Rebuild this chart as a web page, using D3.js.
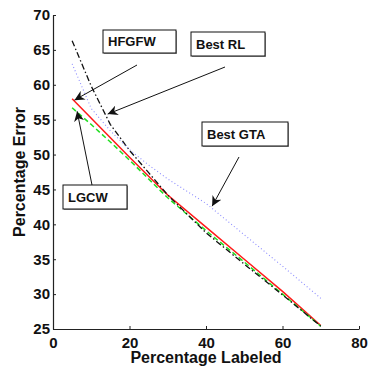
<!DOCTYPE html>
<html>
<head>
<meta charset="utf-8">
<script src="https://cdn.jsdelivr.net/npm/d3@7"></script>
<style>
  body { margin: 0; background: white; }
  text { font-family: "Liberation Sans", Arial, sans-serif; font-weight: bold; }
</style>
</head>
<body>
<script>
// percentage labeled (x) and percentage error for each method
var labeled = [5, 10, 15, 20, 25, 30, 40, 50, 60, 70];
var hfgfw   = [58.0, 55.2, 52.4, 49.6, 46.9, 44.2, 39.6, 35.0, 30.4, 25.5];
var lgcw    = [56.7, 54.3, 51.8, 49.2, 46.5, 43.8, 39.1, 34.6, 30.0, 25.4];
var bestRL  = [66.3, 59.8, 54.3, 50.6, 47.4, 44.2, 38.8, 34.3, 29.9, 25.4];
var bestGTA = [63.0, 56.6, 53.4, 50.7, 48.5, 46.5, 43.0, 38.5, 34.0, 29.4];

var xTicks = [0, 20, 40, 60, 80],
    yTicks = [25, 30, 35, 40, 45, 50, 55, 60, 65, 70];

// annotation boxes: label, box [x, y, w, h], arrow from (px) -> tip (data units)
var notes = [
    {label: "HFGFW",    box: [103, 30, 73, 23], from: [137, 65], to: [5.6, 57.8]},
    {label: "Best RL",  box: [191, 32, 74, 24], from: [225, 67], to: [14.3, 55.8]},
    {label: "Best GTA", box: [202, 122, 86, 24], from: [239, 157], to: [41.6, 42.6]},
    {label: "LGCW",     box: [63, 185, 64, 24], from: [92, 185], to: [6.3, 56.2]}
];

var W = 370, H = 366;
var margin = {top: 15, right: 11, bottom: 37, left: 53};

var svg = d3.select("body").append("svg")
    .attr("width", W)
    .attr("height", H);

var x = d3.scaleLinear().domain([0, 80]).range([margin.left, W - margin.right]);
var y = d3.scaleLinear().domain([25, 70]).range([H - margin.bottom, margin.top]);

// ==== axes ====
var xAxis = svg.append("g")
    .attr("transform", "translate(0," + y(25) + ")")
    .call(d3.axisBottom(x).tickValues(xTicks).tickSizeInner(-3).tickSizeOuter(0).tickPadding(8));
var yAxis = svg.append("g")
    .attr("transform", "translate(" + x(0) + ",0)")
    .call(d3.axisLeft(y).tickValues(yTicks).tickSizeInner(-3).tickSizeOuter(0).tickPadding(3));

[xAxis, yAxis].forEach(function(a) {
    a.select(".domain").attr("stroke", "#222").attr("stroke-width", 1.2);
    a.selectAll(".tick line").attr("stroke", "#222");
    a.selectAll("text")
        .attr("font-family", '"Liberation Sans", Arial, sans-serif')
        .attr("font-weight", "bold")
        .attr("font-size", "15px")
        .attr("fill", "#111");
});

svg.append("text")
    .text("Percentage Labeled")
    .attr("x", (x(0) + x(80)) / 2)
    .attr("y", 363)
    .attr("text-anchor", "middle")
    .attr("font-size", "16px")
    .attr("fill", "#111");

svg.append("text")
    .text("Percentage Error")
    .attr("transform", "translate(25," + (y(25) + y(70)) / 2 + ") rotate(-90)")
    .attr("text-anchor", "middle")
    .attr("font-size", "16px")
    .attr("fill", "#111");

// ==== series ====
var line = d3.line()
    .x(function(d) { return x(d[0]); })
    .y(function(d) { return y(d[1]); });

var series = [
    {vals: hfgfw,   col: "#ff1a1a", w: 1.5, dash: null},
    {vals: lgcw,    col: "#22dd22", w: 1.5, dash: "5,3"},
    {vals: bestRL,  col: "#111111", w: 1.3, dash: "6,2.5,1.5,2.5"},
    {vals: bestGTA, col: "#8c8cff", w: 1.1, dash: "1,2.5"}
];

series.forEach(function(s) {
    svg.append("path")
        .datum(labeled.map(function(v, i) { return [v, s.vals[i]]; }))
        .attr("d", line)
        .attr("fill", "none")
        .attr("stroke", s.col)
        .attr("stroke-width", s.w)
        .attr("stroke-dasharray", s.dash);
});

// ==== annotations ====
svg.append("defs").append("marker")
    .attr("id", "head")
    .attr("viewBox", "0 0 10 10")
    .attr("refX", 10)
    .attr("refY", 5)
    .attr("markerWidth", 10)
    .attr("markerHeight", 10)
    .attr("markerUnits", "userSpaceOnUse")
    .attr("orient", "auto")
    .append("path")
    .attr("d", "M0,0 L10,5 L0,10 L3,5 Z")
    .attr("fill", "#111");

notes.forEach(function(n) {
    svg.append("line")
        .attr("x1", n.from[0])
        .attr("y1", n.from[1])
        .attr("x2", x(n.to[0]))
        .attr("y2", y(n.to[1]))
        .attr("stroke", "#111")
        .attr("stroke-width", 1)
        .attr("marker-end", "url(#head)");

    svg.append("rect")
        .attr("x", n.box[0] + 1)
        .attr("y", n.box[1] + 1)
        .attr("width", n.box[2])
        .attr("height", n.box[3])
        .attr("fill", "#999");
    svg.append("rect")
        .attr("x", n.box[0])
        .attr("y", n.box[1])
        .attr("width", n.box[2])
        .attr("height", n.box[3])
        .attr("fill", "white")
        .attr("stroke", "#111")
        .attr("stroke-width", 1);
    svg.append("text")
        .text(n.label)
        .attr("x", n.box[0] + 5)
        .attr("y", n.box[1] + n.box[3] / 2 + 4.5)
        .attr("font-size", "13px")
        .attr("fill", "#111");
});
</script>
</body>
</html>
